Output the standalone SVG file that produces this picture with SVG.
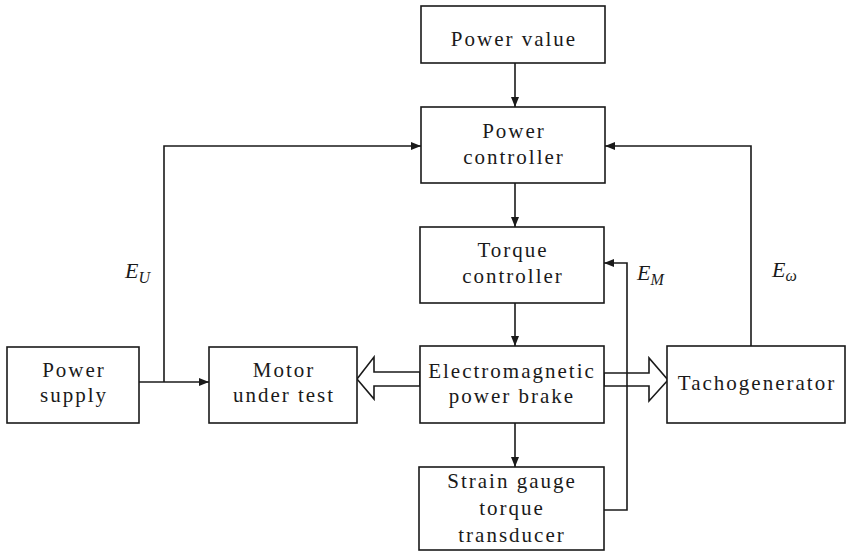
<svg xmlns="http://www.w3.org/2000/svg" width="846" height="553" viewBox="0 0 846 553">
<style>
.box{fill:#fff;stroke:#1a1a1a;stroke-width:1.6}
.t{font-family:"Liberation Serif","Times New Roman",serif;font-size:21px;letter-spacing:2px;fill:#1a1a1a;text-anchor:middle}
.ln{fill:none;stroke:#1a1a1a;stroke-width:1.6}
.hol{fill:none;stroke:#1a1a1a;stroke-width:1.6;stroke-linejoin:miter}
.lab{font-family:"Liberation Serif","Times New Roman",serif;font-style:italic;font-size:22px;fill:#1a1a1a}
.sub{font-size:16px}
</style>
<defs>
<marker id="ah" viewBox="0 0 10 10" refX="10" refY="5" markerWidth="10" markerHeight="10" markerUnits="userSpaceOnUse" orient="auto">
<path d="M0,1 L10,5 L0,9 Z" fill="#1a1a1a"/>
</marker>
</defs>
<rect width="846" height="553" fill="#fff"/>
<g id="connectors">
<line class="ln" x1="515" y1="63" x2="515" y2="107" marker-end="url(#ah)"/>
<line class="ln" x1="515" y1="183" x2="515" y2="227" marker-end="url(#ah)"/>
<line class="ln" x1="515" y1="303" x2="515" y2="346" marker-end="url(#ah)"/>
<line class="ln" x1="515" y1="423" x2="515" y2="467" marker-end="url(#ah)"/>
<line class="ln" x1="139" y1="382" x2="209" y2="382" marker-end="url(#ah)"/>
<polyline class="ln" points="164,382 164,146 421,146" marker-end="url(#ah)"/>
<polyline class="ln" points="751,346 751,146 605,146" marker-end="url(#ah)"/>
<polygon class="hol" points="420,372 374,372 374,357 357,379 374,399 374,386 420,386"/>
<polygon class="hol" points="604,373 649,373 649,358 668,380 649,401 649,386 604,386"/>
<polyline class="ln" points="604,510 627,510 627,263 604,263" marker-end="url(#ah)"/>
<text class="lab" x="125" y="278">E<tspan class="sub" dy="5">U</tspan></text>
<text class="lab" x="637" y="280">E<tspan class="sub" dy="5">M</tspan></text>
<text class="lab" x="772" y="277">E<tspan class="sub" dy="4">ω</tspan></text>
</g>
<g id="power-value">
<rect class="box" x="421" y="6" width="184" height="57"/>
<text class="t" x="514" y="46">Power value</text>
</g>
<g id="power-controller">
<rect class="box" x="421" y="107" width="184" height="76"/>
<text class="t" x="514" y="138">Power</text>
<text class="t" x="514" y="164">controller</text>
</g>
<g id="torque-controller">
<rect class="box" x="420" y="227" width="184" height="76"/>
<text class="t" x="513" y="257">Torque</text>
<text class="t" x="513" y="283">controller</text>
</g>
<g id="power-supply">
<rect class="box" x="7" y="347" width="132" height="76"/>
<text class="t" x="74" y="377">Power</text>
<text class="t" x="74" y="402">supply</text>
</g>
<g id="motor">
<rect class="box" x="209" y="347" width="148" height="76"/>
<text class="t" x="284" y="377">Motor</text>
<text class="t" x="284" y="402">under test</text>
</g>
<g id="brake">
<rect class="box" x="420" y="346" width="184" height="77"/>
<text class="t" x="512" y="378">Electromagnetic</text>
<text class="t" x="512" y="403">power brake</text>
</g>
<g id="tachogenerator">
<rect class="box" x="667" y="346" width="178" height="77"/>
<text class="t" x="757" y="390">Tachogenerator</text>
</g>
<g id="strain-gauge">
<rect class="box" x="419" y="467" width="185" height="83"/>
<text class="t" x="512" y="488">Strain gauge</text>
<text class="t" x="512" y="515">torque</text>
<text class="t" x="512" y="542">transducer</text>
</g>
</svg>
